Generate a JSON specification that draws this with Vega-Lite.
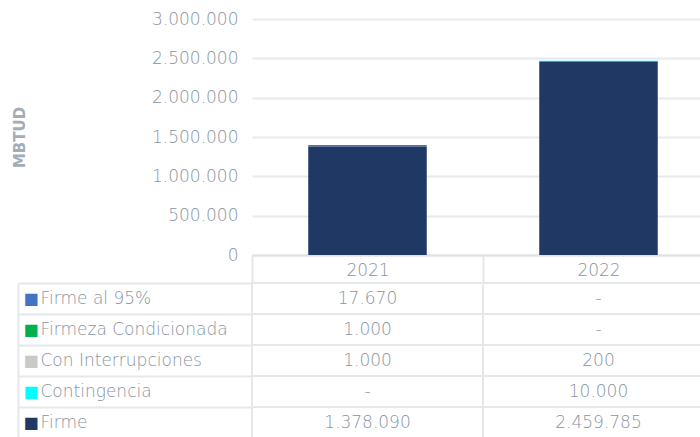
{
  "$schema": "https://vega.github.io/schema/vega-lite/v6.json",
  "padding": {"left": 12, "top": 10, "right": 0, "bottom": 0},
  "spacing": -9,
  "datasets": {
    "vals": [
      {"year": "2021", "series": "Firme al 95%", "value": 17670},
      {"year": "2021", "series": "Firmeza Condicionada", "value": 1000},
      {"year": "2021", "series": "Con Interrupciones", "value": 1000},
      {"year": "2021", "series": "Contingencia", "value": null},
      {"year": "2021", "series": "Firme", "value": 1378090},
      {"year": "2022", "series": "Firme al 95%", "value": null},
      {"year": "2022", "series": "Firmeza Condicionada", "value": null},
      {"year": "2022", "series": "Con Interrupciones", "value": 200},
      {"year": "2022", "series": "Contingencia", "value": 10000},
      {"year": "2022", "series": "Firme", "value": 2459785}
    ]
  },
  "vconcat": [
    {
      "width": 462,
      "height": 236,
      "data": {"name": "vals"},
      "transform": [
        {"filter": "datum.value != null"},
        {"calculate": "indexof(['Firme','Contingencia','Con Interrupciones','Firmeza Condicionada','Firme al 95%'], datum.series)", "as": "stackIdx"}
      ],
      "mark": {"type": "bar", "width": {"band": 0.513}},
      "encoding": {
        "x": {
          "field": "year", "type": "nominal",
          "scale": {"domain": ["2021", "2022"], "paddingInner": 0, "paddingOuter": 0},
          "axis": {
            "title": null, "labelAngle": 0, "domainColor": "#dfe3e8", "domainWidth": 2,
            "tickBand": "extent", "tickSize": 27, "tickColor": "#e4e7eb", "tickWidth": 2,
            "labelPadding": -12, "labelBaseline": "middle", "labelFontSize": 17, "labelColor": "#8894a3", "labelFontWeight": 300
          }
        },
        "y": {
          "field": "value", "type": "quantitative", "stack": "zero",
          "scale": {"domain": [0, 3000000]},
          "axis": {
            "title": "MBTUD", "titleFontWeight": "bold", "titleFontSize": 15, "titleColor": "#a3adba",
            "titleX": -225, "domain": false, "ticks": false, "labelPadding": 14,
            "labelFontSize": 17, "labelColor": "#8894a3", "labelFontWeight": 300, "gridColor": "#e6e9ed", "gridWidth": 2,
            "format": ",.0f", "values": [0, 500000, 1000000, 1500000, 2000000, 2500000, 3000000]
          }
        },
        "color": {
          "field": "series", "type": "nominal",
          "scale": {
            "domain": ["Firme al 95%", "Firmeza Condicionada", "Con Interrupciones", "Contingencia", "Firme"],
            "range": ["#4472c4", "#00b050", "#c9c9c9", "#00ffff", "#203864"]
          },
          "legend": null
        },
        "order": {"field": "stackIdx", "type": "quantitative"}
      }
    },
    {
      "width": 462,
      "height": 155,
      "data": {"name": "vals"},
      "resolve": {"scale": {"y": "independent"}, "axis": {"y": "independent"}},
      "layer": [
        {
          "mark": {"type": "rect", "fill": "#ffffff", "stroke": "#e4e7eb", "strokeWidth": 2},
          "encoding": {
            "x": {"field": "year", "type": "nominal", "scale": {"domain": ["2021", "2022"], "paddingInner": 0, "paddingOuter": 0}, "axis": null},
            "y": {
              "field": "series", "type": "nominal",
              "scale": {"domain": ["Firme al 95%", "Firmeza Condicionada", "Con Interrupciones", "Contingencia", "Firme"], "paddingInner": 0, "paddingOuter": 0},
              "axis": {
                "orient": "left", "offset": 234, "title": null, "grid": false,
                "domain": true, "domainColor": "#e4e7eb", "domainWidth": 2,
                "ticks": true, "tickBand": "extent", "tickSize": -234, "tickColor": "#e4e7eb", "tickWidth": 2,
                "labelAlign": "left", "labelPadding": 212, "labelBaseline": "middle", "labelLimit": 0,
                "labelFontSize": 17, "labelFontWeight": 300, "labelColor": "#8894a3"
              }
            }
          }
        },
        {
          "mark": {"type": "text", "fontSize": 17, "fontWeight": 300, "color": "#8894a3", "baseline": "middle"},
          "encoding": {
            "x": {"field": "year", "type": "nominal", "axis": null},
            "y": {
              "field": "series", "type": "nominal",
              "scale": {"domain": ["Firme al 95%", "Firmeza Condicionada", "Con Interrupciones", "Contingencia", "Firme"], "paddingInner": 0, "paddingOuter": 0},
              "axis": {
                "orient": "left", "offset": 234, "title": null, "grid": false,
                "domain": false, "ticks": false,
                "labelExpr": "'■'", "labelAlign": "left", "labelPadding": -5, "labelBaseline": "middle", "labelFontSize": 16, "labelFontWeight": "normal",
                "labelColor": {
                  "condition": [
                    {"test": "datum.value == 'Firme al 95%'", "value": "#4472c4"},
                    {"test": "datum.value == 'Firmeza Condicionada'", "value": "#00b050"},
                    {"test": "datum.value == 'Con Interrupciones'", "value": "#c9c9c9"},
                    {"test": "datum.value == 'Contingencia'", "value": "#00ffff"}
                  ],
                  "value": "#203864"
                }
              }
            },
            "text": {"condition": {"test": "datum.value == null", "value": "-"}, "field": "value", "type": "quantitative", "format": ",.0f"}
          }
        }
      ]
    }
  ],
  "config": {
    "view": {"stroke": null},
    "font": "DejaVu Sans",
    "locale": {"number": {"decimal": ",", "thousands": ".", "grouping": [3], "currency": ["", ""]}}
  }
}
